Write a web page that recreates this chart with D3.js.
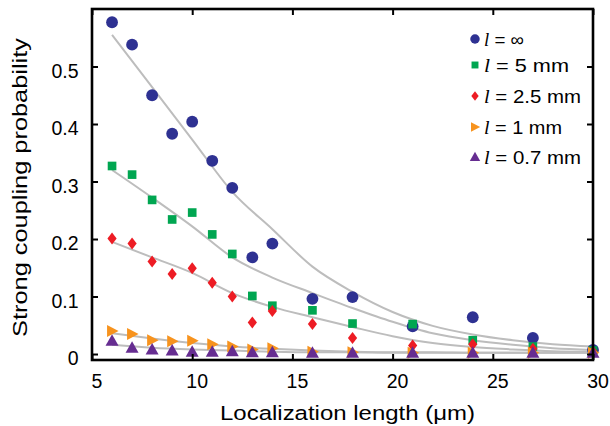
<!DOCTYPE html>
<html><head><meta charset="utf-8">
<script src="https://cdn.jsdelivr.net/npm/d3@7"></script>
<style>html,body{margin:0;padding:0;background:#fff;}</style>
</head><body><svg id="c" width="610" height="426"></svg>
<script>
const xs = [6,7,8,9,10,11,12,13,14,16,18,21,24,27,30];
const seriesNames = ["∞","5 mm","2.5 mm","1 mm","0.7 mm"];
const circleVals  = [0.577,0.538,0.450,0.383,0.404,0.336,0.289,0.168,0.192,0.096,0.099,0.048,0.064,0.028,0.007];
const squareVals  = [0.327,0.312,0.268,0.234,0.246,0.208,0.174,0.101,0.084,0.076,0.053,0.052,0.024,0.013,0.006];
const diamondVals = [0.201,0.192,0.161,0.139,0.149,0.124,0.100,0.055,0.075,0.052,0.028,0.015,0.017,0.009,0.004];
const orangeVals  = [0.040,0.035,0.024,0.022,0.023,0.017,0.013,0.008,0.010,0.004,0.003,0.002,0.002,0.002,0.002];
const purpleVals  = [0.023,0.011,0.008,0.006,0.004,0.004,0.005,0.003,0.003,0.002,0.002,0.002,0.002,0.002,0.002];
const fitX = [6,8,10,12,14,16,18,20,22,24,26,28,30];
const fitCircle  = [0.555,0.464,0.373,0.282,0.217,0.152,0.108,0.073,0.049,0.034,0.024,0.017,0.013];
const fitSquare  = [0.320,0.272,0.222,0.168,0.133,0.106,0.080,0.056,0.036,0.024,0.016,0.010,0.007];
const fitDiamond = [0.195,0.168,0.141,0.106,0.082,0.064,0.047,0.031,0.019,0.012,0.008,0.005,0.004];
const fitOrange  = [0.036,0.027,0.019,0.013,0.009,0.006,0.004,0.003,0.003,0.002,0.002,0.002,0.002];
const fitPurple  = [0.016,0.011,0.008,0.006,0.004,0.003,0.003,0.002,0.002,0.002,0.002,0.002,0.002];
const xTicks = [5,10,15,20,25,30];
const yTicks = [0,0.1,0.2,0.3,0.4,0.5];

const colors = ["#2e3192","#00a651","#ed1c24","#f7931e","#662d91"];
const shapes = ["circle","square","diamond","right","up"];
const vals = [circleVals, squareVals, diamondVals, orangeVals, purpleVals];
const fits = [fitCircle, fitSquare, fitDiamond, fitOrange, fitPurple];
const FONT = "Liberation Sans, Arial, Helvetica, sans-serif";

const svg = d3.select("#c");
const L=92, R=593, T=9, B=360;
const x = d3.scaleLinear().domain([5,30]).range([L,R]);
const y = d3.scaleLinear().domain([-0.0104,0.6]).range([B,T]);

function markerPath(i, s){
  const sh = shapes[i];
  if (sh === "diamond") return `M0,${-6*s}L${4.6*s},0L0,${6*s}L${-4.6*s},0Z`;
  if (sh === "right") return `M${-5*s},${-6*s}L${6.5*s},0L${-5*s},${6*s}Z`;
  if (sh === "circle") return d3.symbol().type(d3.symbolCircle).size(110*s*s)();
  if (sh === "square") return d3.symbol().type(d3.symbolSquare).size(75*s*s)();
  return `M0,${-6.5*s}L${6.5*s},${5*s}L${-6.5*s},${5*s}Z`;
}

// fit lines
const line = d3.line().x((d,i)=>x(fitX[i])).y(d=>y(d)).curve(d3.curveMonotoneX);
fits.forEach(f=>{
  svg.append("path").attr("d", line(f)).attr("fill","none").attr("stroke","#bdbdbd").attr("stroke-width",2);
});

// markers
vals.forEach((v,i)=>{
  svg.append("g").selectAll("path").data(v).join("path")
    .attr("d", markerPath(i,1))
    .attr("transform",(d,j)=>`translate(${x(xs[j])},${y(d)})`)
    .attr("fill", colors[i]);
});

// axes frame
const axB = d3.axisBottom(x).tickValues(xTicks).tickSize(-6).tickFormat(d3.format("d"));
const axT = d3.axisTop(x).tickValues(xTicks).tickSize(-6).tickFormat("");
const axL = d3.axisLeft(y).tickValues(yTicks).tickSize(-6).tickFormat(d=>d===0?"0":d3.format(".1f")(d));
const axR = d3.axisRight(y).tickValues(yTicks).tickSize(-6).tickFormat("");
function style(g){
  g.select(".domain").remove();
  g.selectAll(".tick line").attr("stroke","#000").attr("stroke-width",2);
  g.selectAll("text").attr("font-family",FONT).attr("font-size",19.5).attr("fill","#000");
}
svg.append("g").attr("transform",`translate(0,${B})`).call(axB).call(style)
  .selectAll("text").attr("y",27.7).attr("dy",0).attr("dx",4.5);
svg.append("g").attr("transform",`translate(0,${T})`).call(axT).call(style);
svg.append("g").attr("transform",`translate(${L},0)`).call(axL).call(style)
  .selectAll("text").attr("x",-13.5).attr("dy",0).attr("y",10.5);
svg.append("g").attr("transform",`translate(${R},0)`).call(axR).call(style);
svg.append("rect").attr("x",L).attr("y",T).attr("width",R-L).attr("height",B-T)
  .attr("fill","none").attr("stroke","#000").attr("stroke-width",2.6);

// axis titles
svg.append("text").attr("x",220).attr("y",420)
  .attr("font-family",FONT).attr("font-size",20.5)
  .attr("textLength",255).attr("lengthAdjust","spacingAndGlyphs")
  .text("Localization length (μm)");
svg.append("text").attr("transform",`translate(27,337) rotate(-90)`)
  .attr("font-family",FONT).attr("font-size",20.5)
  .attr("textLength",299).attr("lengthAdjust","spacingAndGlyphs")
  .text("Strong coupling probability");

// legend
const legY = [39,65,96,127,157];
const legW = [40,85,97,78,97];
seriesNames.forEach((n,i)=>{
  const g = svg.append("g").attr("transform",`translate(475,${legY[i]})`);
  g.append("path").attr("d", markerPath(i,0.8)).attr("fill",colors[i]);
  const t = g.append("text").attr("x",9).attr("y",6.5).attr("font-family",FONT).attr("font-size",18.5)
    .attr("textLength",legW[i]).attr("lengthAdjust","spacingAndGlyphs");
  t.append("tspan").attr("font-family","Liberation Serif, Times New Roman, serif").attr("font-style","italic").text("l");
  t.append("tspan").text(" = " + n);
});
</script></body></html>
